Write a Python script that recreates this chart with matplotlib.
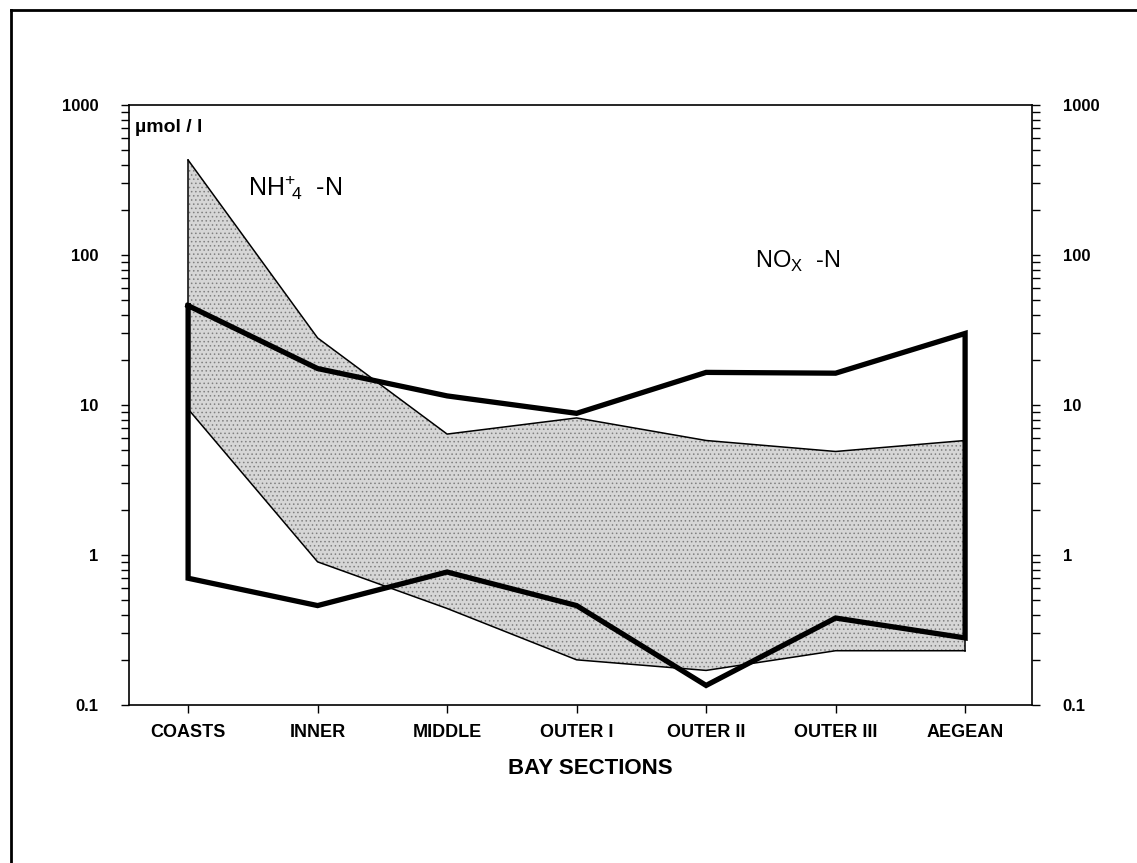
import matplotlib
matplotlib.use("Agg")
import matplotlib.pyplot as plt
from matplotlib.ticker import FixedLocator, FixedFormatter, LogLocator, NullFormatter
from matplotlib.lines import Line2D

plt.rcParams['font.family'] = ['Liberation Sans', 'DejaVu Sans']
plt.rcParams['mathtext.fontset'] = 'custom'
plt.rcParams['mathtext.rm'] = 'Liberation Sans'
plt.rcParams['hatch.linewidth'] = 0.6

# Bay sections along the transect
sections = ["COASTS", "INNER", "MIDDLE", "OUTER I", "OUTER II", "OUTER III", "AEGEAN"]

# Ammonium (NH4+-N) concentration range, µmol/l
nh4_max = [430, 28, 6.4, 8.2, 5.8, 4.9, 5.8]
nh4_min = [9.4, 0.9, 0.44, 0.20, 0.17, 0.23, 0.23]

# Oxidised nitrogen (NOx-N) concentration range, µmol/l
nox_max = [46, 17.5, 11.5, 8.8, 16.5, 16.3, 30]
nox_min = [0.70, 0.46, 0.77, 0.46, 0.135, 0.38, 0.28]

yticks = [0.1, 1, 10, 100, 1000]
ytick_labels = ["0.1", "1", "10", "100", "1000"]

fig = plt.figure(figsize=(11.37, 8.63), dpi=100)
ax = fig.add_axes([0.1135, 0.1831, 0.7942, 0.6952])

x = list(range(len(sections)))

# NH4 range: stippled band with thin outline
ax.fill_between(x, nh4_min, nh4_max, facecolor="#d6d6d6", edgecolor="#808080",
                hatch="....", linewidth=0, zorder=1)
ax.plot(x, nh4_max, color="black", lw=1.1, zorder=2)
ax.plot(x, nh4_min, color="black", lw=1.1, zorder=2)
ax.plot([x[0], x[0]], [nh4_min[0], nh4_max[0]], color="black", lw=1.1, zorder=2)
ax.plot([x[-1], x[-1]], [nh4_min[-1], nh4_max[-1]], color="black", lw=1.1, zorder=2)

# NOx range: closed heavy outline
nox_x = x + x[::-1] + [x[0]]
nox_y = nox_max + nox_min[::-1] + [nox_max[0]]
ax.plot(nox_x, nox_y, color="black", lw=3.8, solid_joinstyle="miter", zorder=3)

ax.set_yscale("log")
ax.set_ylim(0.1, 1000)
ax.set_xlim(-0.456, 6.517)

ax.yaxis.set_major_locator(FixedLocator(yticks))
ax.yaxis.set_major_formatter(FixedFormatter(ytick_labels))
ax.yaxis.set_minor_locator(LogLocator(base=10, subs=range(2, 10)))
ax.yaxis.set_minor_formatter(NullFormatter())

ax.set_xticks(x)
ax.set_xticklabels(sections, fontsize=13, fontweight="bold")

ax.tick_params(axis="y", which="both", direction="out", length=6, width=1.0,
               left=True, right=True, labelleft=True, labelright=True,
               labelsize=12, pad=16)
ax.tick_params(axis="x", which="both", direction="out", length=6, width=1.0,
               top=False, pad=8)
for lab in ax.get_yticklabels():
    lab.set_fontweight("bold")
for s in ax.spines.values():
    s.set_linewidth(1.2)

fig.text(590 / 1137, 1 - 768 / 863, "BAY SECTIONS", fontsize=16,
         fontweight="bold", ha="center", va="center")

ax.text(0.007, 0.963, "µmol / l", transform=ax.transAxes, fontsize=14,
        fontweight="bold", ha="left", va="center")
ax.text(0.46, 280, r"NH$^{+}\!_{4}$  -N", fontsize=18, ha="left", va="center")
ax.text(4.38, 90, r"NO$_{\mathrm{X}}$  -N", fontsize=17, ha="left", va="center")

# Page frame
fig.add_artist(Line2D([0.0095, 0.0095], [0.0, 0.988], color="black", lw=2.0,
                      transform=fig.transFigure))
fig.add_artist(Line2D([0.0095, 0.999], [0.988, 0.988], color="black", lw=2.0,
                      transform=fig.transFigure))

fig.savefig("out.png", dpi=100)
